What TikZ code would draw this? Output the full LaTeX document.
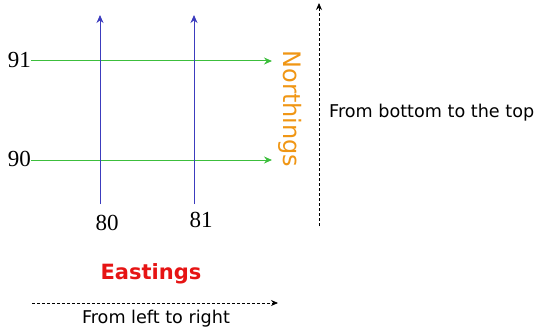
\documentclass[tikz,border=0pt]{standalone}
\usepackage{fontspec}
\setmainfont{Liberation Serif}
\setsansfont{DejaVu Sans}
\usetikzlibrary{arrows.meta}

\definecolor{gridgreen}{RGB}{60,190,60}
\definecolor{gridblue}{RGB}{60,60,190}
\definecolor{northorange}{RGB}{240,150,20}
\definecolor{eastred}{RGB}{230,20,20}

\tikzset{
  northline/.style={gridgreen, line width=1pt, -{Stealth[length=8pt,width=7pt]}},
  eastline/.style={gridblue, line width=1pt, -{Stealth[length=8pt,width=7pt]}},
  dirline/.style={black, line width=0.8pt, dash pattern=on 3pt off 2pt, -{Stealth[length=7pt,width=6pt]}},
  gridnum/.style={font=\fontsize{23}{23}\selectfont, inner sep=0pt},
  dirtext/.style={font=\sffamily\fontsize{17.6}{17.6}\selectfont, inner sep=0pt}
}

\begin{document}
\begin{tikzpicture}[x=1pt,y=-1pt]
\useasboundingbox (0,0) rectangle (538,334);
% northing lines
\node[gridnum, anchor=base east] (n91) at (31,68) {91};
\node[gridnum, anchor=base east] (n90) at (31,167) {90};
\coordinate (n91end) at (272,61);
\coordinate (n90end) at (272,160);
\draw[northline] (n91.east |- n91end) -- (n91end);
\draw[northline] (n90.east |- n90end) -- (n90end);
% easting lines
\node[gridnum, anchor=base] (e80) at (107,230) {80};
\node[gridnum, anchor=base] (e81) at (201,227) {81};
\coordinate (e80bot) at (100,204);
\coordinate (e80top) at (100,15);
\coordinate (e81bot) at (194,204);
\coordinate (e81top) at (194,15);
\draw[eastline] (e80bot) -- (e80top);
\draw[eastline] (e81bot) -- (e81top);
% titles
\node[font=\sffamily\fontsize{24}{24}\selectfont, text=northorange, rotate=-90, anchor=base, inner sep=0pt] (north) at (283,109) {Northings};
\node[font=\sffamily\bfseries\fontsize{21}{21}\selectfont, text=eastred, anchor=base, inner sep=0pt] (east) at (151,279) {Eastings};
% directions
\coordinate (upbot) at (319,226);
\coordinate (uptop) at (319,3);
\draw[dirline] (upbot) -- (uptop);
\node[dirtext, anchor=base west] (uptext) at (329,118) {From bottom to the top};
\coordinate (rightbeg) at (32,303);
\coordinate (rightend) at (278,303);
\draw[dirline] (rightbeg) -- (rightend);
\node[dirtext, anchor=base] (righttext) at (156,323) {From left to right};
\end{tikzpicture}
\end{document}
